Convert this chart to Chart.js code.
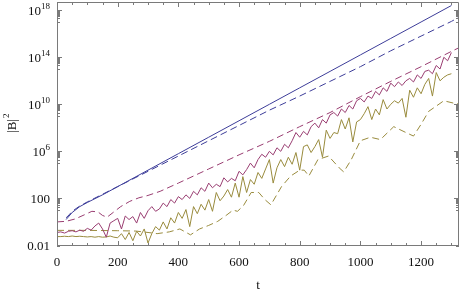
<!DOCTYPE html>
<html>
<head>
<meta charset="utf-8">
<script src="https://cdn.jsdelivr.net/npm/chart.js@4.4.1/dist/chart.umd.min.js"></script>
<style>
  body { margin: 0; background: #fff; }
  #wrap { width: 463px; height: 295px; position: relative; }
</style>
</head>
<body>
<div id="wrap"><canvas id="mycanvas1"></canvas></div>
<script>
// time grid of the two noisy curves
var tNoisy = [0,12.5,25,37.5,50,62.5,75,87.5,100,112.5,125,137.5,150,162.5,175,187.5,200,212.5,225,237.5,250,262.5,275,287.5,300,312.5,325,337.5,350,362.5,375,387.5,400,412.5,425,437.5,450,462.5,475,487.5,500,512.5,525,537.5,550,562.5,575,587.5,600,612.5,625,637.5,650,662.5,675,687.5,700,712.5,725,737.5,750,762.5,775,787.5,800,812.5,825,837.5,850,862.5,875,887.5,900,912.5,925,937.5,950,962.5,975,987.5,1000,1012.5,1025,1037.5,1050,1062.5,1075,1087.5,1100,1112.5,1125,1137.5,1150,1162.5,1175,1187.5,1200,1212.5,1225,1237.5,1250,1262.5,1275,1287.5,1300];

// all values are log10 |B|^2
var magSolid = [-0.9,-0.85,-0.95,-0.8,-0.75,-0.85,-0.7,-0.8,
  -0.55,-0.7,-0.35,-0.1,-0.6,-1.3,-0.1,0.1,
  0.3,-0.6,0.5,0.2,0.45,-0.1,0.8,0.3,
  0.95,1.3,0.9,1.1,1.6,1.3,1.9,1.6,
  2.15,1.9,2.3,2.0,2.6,2.3,2.9,2.6,
  3.3,2.9,3.2,3.0,3.75,3.4,3.7,3.5,
  4.3,4.0,4.45,5.0,4.6,5.3,5.75,5.5,
  6.0,5.7,6.3,6.0,6.6,6.3,6.9,7.6,
  7.2,7.7,7.4,8.1,8.4,8.0,8.7,8.4,
  9.1,9.3,9.0,9.6,9.3,9.9,9.6,10.3,
  10.5,10.2,10.7,10.5,11.1,10.8,11.4,11.1,
  11.8,11.5,11.9,11.6,12.0,12.2,11.9,12.5,
  12.2,12.8,12.9,12.6,13.3,13.0,14.0,13.7,
  14.4];

var oliveSolid = [-1.25,-1.25,-1.22,-1.25,-1.2,-1.25,-1.22,-1.25,
  -1.28,-1.25,-1.3,-1.25,-1.3,-1.28,-1.2,-1.3,
  -1.35,-1.0,-1.5,-0.9,-1.6,-0.8,-1.2,-0.6,
  -1.8,-1.0,-0.4,-0.7,0.0,-0.6,0.35,-0.1,
  0.8,0.3,1.05,-0.4,1.3,0.7,1.5,1.0,
  1.9,0.9,2.5,1.8,2.2,2.75,2.1,3.3,
  2.1,3.85,2.5,3.6,3.2,4.2,3.7,4.5,
  5.3,3.3,4.6,5.3,4.7,5.5,4.9,5.9,
  4.4,6.4,6.55,5.9,6.4,7.0,5.5,7.8,
  7.1,7.6,7.5,8.7,7.9,8.85,6.8,8.5,
  8.7,9.2,9.8,8.7,9.6,9.1,10.4,9.6,
  10.0,10.3,10.1,10.5,8.9,11.2,10.6,11.4,
  10.9,11.7,12.2,10.7,12.7,12.0,12.3,12.5,
  12.6];

var tBlue = [30,40,50,75,100,150,200,300,400,500,600,700,800,900,1000,1100,1200,1300];
var blueSolid = [0.2,0.5,0.8,1.3,1.65,2.3,3.0,4.4,5.8,7.2,8.6,10.0,11.4,12.8,14.2,15.6,17.0,18.4];

var tBlueDash = [30,40,50,75,100,150,200,300,400,500,600,700,800,900,1000,1100,1200,1300,1340];
var blueDash = [0.35,0.6,0.9,1.35,1.7,2.35,3.0,4.3,5.6,6.9,8.2,9.5,10.7,11.95,13.2,14.55,15.8,17.05,17.6];

var tMagDash = [0,30,60,90,115,135,150,165,185,210,240,270,300,340,400,450,500,600,700,800,900,1000,1100,1200,1300,1340];
var magDash = [0.0,0.05,0.25,0.6,0.9,0.85,0.55,0.4,0.8,1.3,1.75,2.05,2.25,2.6,3.3,3.9,4.5,5.7,6.85,8.1,9.3,10.65,11.95,13.2,14.5,15.0];

var tOliveDash = [0,100,200,260,300,330,370,405,440,470,500,530,560,580,595,615,640,665,685,705,740,770,800,815,830,860,895,930,945,970,1000,1033,1066,1110,1150,1175,1200,1225,1275,1307,1340];
var oliveDash = [-0.72,-0.72,-0.75,-0.78,-0.9,-1.0,-0.85,-0.6,-1.1,-0.6,-0.3,0.05,0.6,1.0,0.9,1.4,2.5,2.5,1.9,1.45,3.0,3.9,4.4,4.4,3.9,5.3,5.6,4.6,4.25,5.3,6.9,7.2,7.0,8.1,7.6,7.3,8.3,9.4,10.3,10.1,10.0];

var xMajor = [0,200,400,600,800,1000,1200];
var yMajor = [1e-2,1e2,1e6,1e10,1e14,1e18];
// [base, exponent] of each y tick label
var yTickLabels = [['0.01',''],['100',''],['10','6'],['10','10'],['10','14'],['10','18']];

var blue = '#3d3d99', magenta = '#993d71', olive = '#998b3d';
var fontFam = '"Liberation Serif", "Times New Roman", serif';

function pts(ts, logs) {
  return ts.map(function(t, i) { return {x: t, y: Math.pow(10, logs[i])}; });
}

function line(label, ts, logs, color, dashed) {
  return {
    label: label,
    data: pts(ts, logs),
    borderColor: color,
    borderWidth: 1,
    borderDash: dashed ? [7, 4] : [],
    pointRadius: 0,
    fill: false,
    tension: 0
  };
}

// frame with inward ticks on all four sides, y labels with superscripts, y title
var frameTicks = {
  id: 'frameTicks',
  afterDraw: function(chart) {
    var ctx = chart.ctx, a = chart.chartArea, x = chart.scales.x, y = chart.scales.y;
    ctx.save();
    ctx.strokeStyle = '#7a7a7a';
    ctx.lineWidth = 1;
    ctx.beginPath();
    ctx.rect(Math.round(a.left) + 0.5, Math.round(a.top) + 0.5,
      Math.round(a.right - a.left) - 1, Math.round(a.bottom - a.top) - 1);
    var v, px, len, i, j, m;
    for (v = 0; v <= 1300; v += 50) {
      px = Math.round(x.getPixelForValue(v)) + 0.5;
      len = xMajor.indexOf(v) >= 0 ? 5 : 3;
      ctx.moveTo(px, a.bottom); ctx.lineTo(px, a.bottom - len);
      ctx.moveTo(px, a.top); ctx.lineTo(px, a.top + len);
    }
    for (i = 0; i < yMajor.length; i++) {
      m = yMajor[i];
      for (j = 1; j <= 10; j++) {
        v = j * m / 10;
        if (v < y.min || v > y.max) continue;
        px = Math.round(y.getPixelForValue(v)) + 0.5;
        len = j === 10 ? 5 : 3;
        ctx.moveTo(a.left, px); ctx.lineTo(a.left + len, px);
        ctx.moveTo(a.right, px); ctx.lineTo(a.right - len, px);
      }
    }
    ctx.stroke();

    // y tick labels
    ctx.fillStyle = '#111';
    ctx.textAlign = 'right';
    ctx.textBaseline = 'alphabetic';
    var right = a.left - 7;
    for (i = 0; i < yMajor.length; i++) {
      var py = y.getPixelForValue(yMajor[i]);
      var base = yTickLabels[i][0], ex = yTickLabels[i][1];
      if (ex) {
        ctx.font = '9px ' + fontFam;
        var ew = ctx.measureText(ex).width;
        ctx.fillText(ex, right, py - 1.5);
        ctx.font = '13px ' + fontFam;
        ctx.fillText(base, right - ew, py + 5);
      } else {
        ctx.font = '13px ' + fontFam;
        ctx.fillText(base, right, py + 4.5);
      }
    }

    // y title |B|^2
    ctx.translate(16, (a.top + a.bottom) / 2);
    ctx.rotate(-Math.PI / 2);
    ctx.textAlign = 'left';
    ctx.font = '13px ' + fontFam;
    var tw = ctx.measureText('|B|').width;
    ctx.fillText('|B|', -tw / 2 - 2, 0);
    ctx.font = '9px ' + fontFam;
    ctx.fillText('2', tw / 2 - 1, -7);
    ctx.restore();
  }
};

var serif = { family: fontFam, size: 13 };

var ctx = document.getElementById('mycanvas1');
var LineGraph = new Chart(ctx, {
  type: 'line',
  data: {
    datasets: [
      line('solid 1', tBlue, blueSolid, blue, false),
      line('dashed 1', tBlueDash, blueDash, blue, true),
      line('solid 2', tNoisy, magSolid, magenta, false),
      line('dashed 2', tMagDash, magDash, magenta, true),
      line('solid 3', tNoisy, oliveSolid, olive, false),
      line('dashed 3', tOliveDash, oliveDash, olive, true)
    ]
  },
  options: {
    responsive: true,
    maintainAspectRatio: false,
    animation: false,
    layout: { padding: { top: 2, right: 4, left: 0, bottom: 0 } },
    plugins: { legend: { display: false }, tooltip: { enabled: false } },
    scales: {
      x: {
        type: 'linear',
        min: 0,
        max: 1325,
        afterFit: function(s) { s.height = 49; },
        afterBuildTicks: function(s) { s.ticks = xMajor.map(function(v) { return {value: v}; }); },
        grid: { display: false, drawTicks: false },
        border: { display: false },
        ticks: { color: '#111', font: serif, padding: 9, maxRotation: 0,
          callback: function(value) { return String(value); } },
        title: { display: true, text: 't', color: '#111', font: serif, padding: { top: 0, bottom: 2 } }
      },
      y: {
        type: 'logarithmic',
        min: Math.pow(10, -2.05),
        max: Math.pow(10, 18.7),
        afterFit: function(s) { s.width = 57; },
        afterBuildTicks: function(s) { s.ticks = yMajor.map(function(v) { return {value: v}; }); },
        grid: { display: false, drawTicks: false },
        border: { display: false },
        ticks: { display: false }
      }
    }
  },
  plugins: [frameTicks]
});
</script>
</body>
</html>
